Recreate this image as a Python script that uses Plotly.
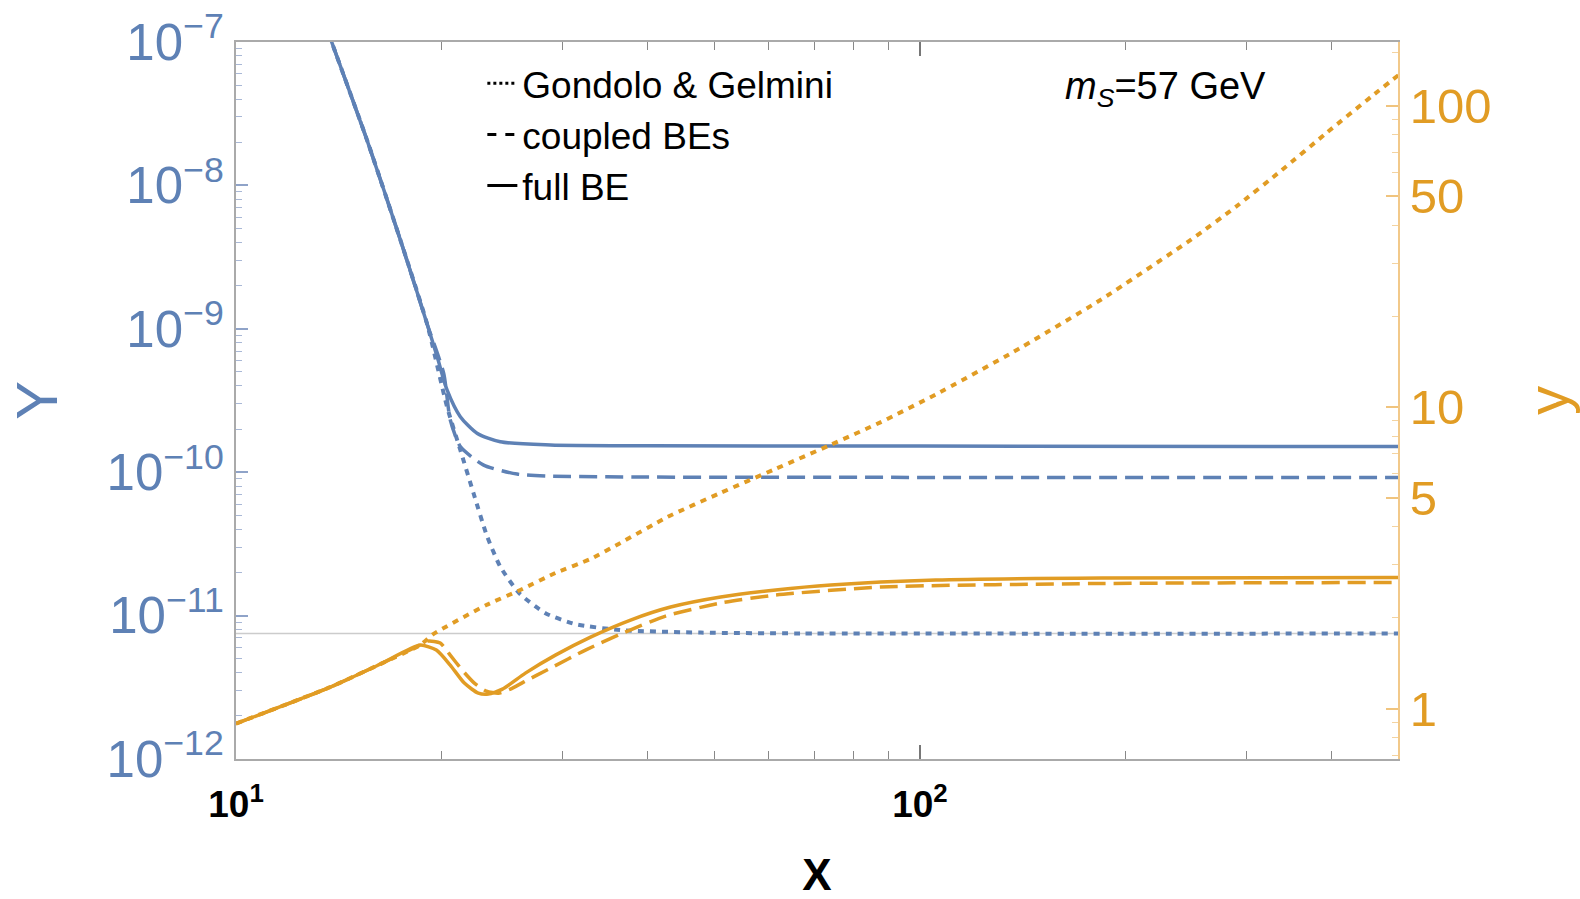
import plotly.graph_objects as go

BLUE = "#5E81B5"
ORANGE = "#E19C24"
FONT = "Liberation Sans, Arial, Helvetica, sans-serif"

# ---- data: Y (left axis) ----
x_Y_full = [13.5, 13.80, 15.54, 17.39, 19.02, 19.70, 20.35, 21.28, 22.51, 24.35, 28.83, 40.0, 100.0, 500.0]
Y_full = [1.35e-7, 1.0e-7, 2.08e-8, 4.17e-9, 1.09e-9, 6.3e-10, 3.75e-10, 2.44e-10, 1.87e-10, 1.63e-10, 1.55e-10, 1.53e-10, 1.52e-10, 1.51e-10]

x_Y_coupled = [13.5, 13.80, 15.54, 17.39, 19.02, 20.12, 20.57, 21.28, 23.02, 25.76, 28.83, 40.0, 500.0]
Y_coupled = [1.35e-7, 1.0e-7, 2.08e-8, 4.17e-9, 1.09e-9, 4.90e-10, 2.32e-10, 1.51e-10, 1.12e-10, 9.70e-11, 9.39e-11, 9.25e-11, 9.19e-11]

x_Y_gg = [13.5, 13.80, 15.54, 17.39, 19.02, 20.35, 21.28, 22.25, 23.28, 24.35, 25.96, 28.34, 31.35, 36.49, 47.80, 66.96, 500.0]
Y_gg = [1.35e-7, 1.0e-7, 2.08e-8, 4.17e-9, 1.09e-9, 2.86e-10, 1.43e-10, 7.13e-11, 3.59e-11, 2.19e-11, 1.43e-11, 1.04e-11, 8.72e-12, 7.93e-12, 7.61e-12, 7.51e-12, 7.49e-12]

Y_ref_level = 7.5e-12
x_ref = [10, 500]

# ---- data: y (right axis) ----
x_y_full = [10.0, 13.73, 16.25, 18.59, 19.63, 20.57, 21.57, 22.61, 23.39, 24.52, 26.49, 29.31, 32.99, 37.75, 43.19, 51.12, 61.54, 74.08, 105.5, 184.1, 500.0]
y_full = [0.891, 1.177, 1.403, 1.623, 1.562, 1.393, 1.214, 1.124, 1.116, 1.159, 1.310, 1.503, 1.725, 1.965, 2.170, 2.343, 2.472, 2.568, 2.668, 2.709, 2.720]

x_y_coupled = [10.0, 13.73, 16.25, 18.59, 19.10, 19.89, 20.57, 21.42, 22.31, 23.23, 24.19, 25.19, 26.32, 28.83, 32.43, 36.49, 42.47, 51.12, 61.54, 87.69, 184.1, 500.0]
y_coupled = [0.891, 1.177, 1.403, 1.623, 1.673, 1.648, 1.503, 1.340, 1.214, 1.142, 1.124, 1.159, 1.223, 1.361, 1.562, 1.765, 2.026, 2.238, 2.379, 2.529, 2.598, 2.618]

x_y_gg = [10.0, 13.73, 16.25, 18.59, 19.43, 23.23, 26.04, 29.31, 32.99, 36.49, 42.76, 51.12, 61.54, 74.08, 87.69, 105.5, 136.8, 184.1, 249.4, 290.2, 337.8, 393.0, 457.5, 501.0]
y_gg = [0.891, 1.177, 1.403, 1.623, 1.765, 2.204, 2.472, 2.815, 3.133, 3.541, 4.321, 5.191, 6.237, 7.494, 8.91, 11.01, 15.2, 22.73, 35.96, 46.28, 60.95, 81.1, 107.2, 126.2]

# ---- axis ticks ----
x_tickvals = [10, 100]
x_ticktext = ["<b>10<sup>1</sup></b>", "<b>10<sup>2</sup></b>"]
x_minor = [20, 30, 40, 50, 60, 70, 80, 90, 200, 300, 400]

Y_exps = [-12, -11, -10, -9, -8, -7]
Y_tickvals = [10.0 ** e for e in Y_exps]
Y_ticktext = ["10<sup>\u2212%d</sup>" % (-e) for e in Y_exps]
Y_minor = [m * 10.0 ** e for e in Y_exps[:-1] for m in range(2, 10)]

y_tickvals = [1, 5, 10, 50, 100]
y_ticktext = ["1", "5", "10", "50", "100"]
y_minor = [0.7, 0.8, 0.9, 2, 3, 4, 6, 7, 8, 9, 20, 30, 40, 60, 70, 80, 90, 150]

legend_names = ["Gondolo & Gelmini", "coupled BEs", "full BE"]
legend_dashes = ["dot", "dash", "solid"]

DOT = "6px,6px"
DASH = "18px,8px"

fig = go.Figure()

fig.add_trace(go.Scatter(x=x_ref, y=[Y_ref_level, Y_ref_level], mode="lines",
                         line=dict(color="#CCCCCC", width=1.5), showlegend=False, hoverinfo="skip"))

fig.add_trace(go.Scatter(x=x_Y_gg, y=Y_gg, mode="lines", line=dict(color=BLUE, width=4, dash=DOT, shape="spline", smoothing=0.6), showlegend=False))
fig.add_trace(go.Scatter(x=x_Y_coupled, y=Y_coupled, mode="lines", line=dict(color=BLUE, width=3.5, dash=DASH, shape="spline", smoothing=0.6), showlegend=False))
fig.add_trace(go.Scatter(x=x_Y_full, y=Y_full, mode="lines", line=dict(color=BLUE, width=3.5, shape="spline", smoothing=0.7), showlegend=False))

fig.add_trace(go.Scatter(x=x_y_gg, y=y_gg, mode="lines", yaxis="y2", line=dict(color=ORANGE, width=4, dash=DOT, shape="spline", smoothing=0.5), showlegend=False))
fig.add_trace(go.Scatter(x=x_y_coupled, y=y_coupled, mode="lines", yaxis="y2", line=dict(color=ORANGE, width=3.5, dash=DASH, shape="spline", smoothing=0.6), showlegend=False))
fig.add_trace(go.Scatter(x=x_y_full, y=y_full, mode="lines", yaxis="y2", line=dict(color=ORANGE, width=3.5, shape="spline", smoothing=0.6), showlegend=False))

# legend-only entries
for name, dash in zip(legend_names, legend_dashes):
    fig.add_trace(go.Scatter(x=[None], y=[None], mode="lines", name=name,
                             line=dict(color="black", width=3, dash=dash)))

fig.update_layout(
    width=1580, height=899,
    margin=dict(l=236, r=182, t=42, b=140),
    paper_bgcolor="white", plot_bgcolor="white",
    font=dict(family=FONT, color="black"),
    showlegend=True,
    legend=dict(x=0.212, y=0.985, xanchor="left", yanchor="top",
                bgcolor="rgba(0,0,0,0)", font=dict(size=37, family=FONT, color="black"),
                tracegroupgap=0, itemwidth=30),
    xaxis=dict(type="log", range=[1, 2.69897], showgrid=False, zeroline=False,
               showline=True, linecolor="#AAAAAA", linewidth=2, mirror="ticks",
               ticks="inside", ticklen=14, tickwidth=1.5, tickcolor="#777777",
               tickmode="array", tickvals=x_tickvals, ticktext=x_ticktext,
               tickfont=dict(size=37, family=FONT, color="black"), ticklabelstandoff=12,
               minor=dict(ticks="inside", ticklen=8, tickwidth=1, tickcolor="#888888",
                          tickmode="array", tickvals=x_minor, showgrid=False),
               title=dict(text="<b>X</b>", font=dict(size=44, family=FONT, color="black"), standoff=44),
               automargin=False),
    yaxis=dict(type="log", range=[-12, -7], showgrid=False, zeroline=False,
               showline=True, linecolor="#AAAAAA", linewidth=2,
               ticks="inside", ticklen=12, tickwidth=1.5, tickcolor="#8FA3C8",
               tickmode="array", tickvals=Y_tickvals, ticktext=Y_ticktext,
               tickfont=dict(size=51, family=FONT, color=BLUE),
               minor=dict(ticks="inside", ticklen=6, tickwidth=1, tickcolor="#A9B8D6",
                          tickmode="array", tickvals=Y_minor, showgrid=False),
               title=dict(text="Y", font=dict(size=58, family=FONT, color=BLUE), standoff=30),
               automargin=False),
    yaxis2=dict(type="log", range=[-0.1675, 2.2106], overlaying="y", side="right",
                showgrid=False, zeroline=False,
                showline=True, linecolor="#F2C98A", linewidth=2,
                ticks="inside", ticklen=12, tickwidth=1.5, tickcolor="#F0C47E",
                tickmode="array", tickvals=y_tickvals, ticktext=y_ticktext,
                tickfont=dict(size=49, family=FONT, color=ORANGE),
                minor=dict(ticks="inside", ticklen=6, tickwidth=1, tickcolor="#F3D3A0",
                           tickmode="array", tickvals=y_minor, showgrid=False),
                title=dict(text="y", font=dict(size=58, family=FONT, color=ORANGE), standoff=38),
                automargin=False),
    annotations=[dict(text="<i>m</i><sub><i>S</i></sub>=57 GeV", xref="paper", yref="paper",
                      x=0.8, y=0.935, xanchor="center", yanchor="middle", showarrow=False,
                      font=dict(size=38, family=FONT, color="black"))],
)

fig.write_html("out.html")
